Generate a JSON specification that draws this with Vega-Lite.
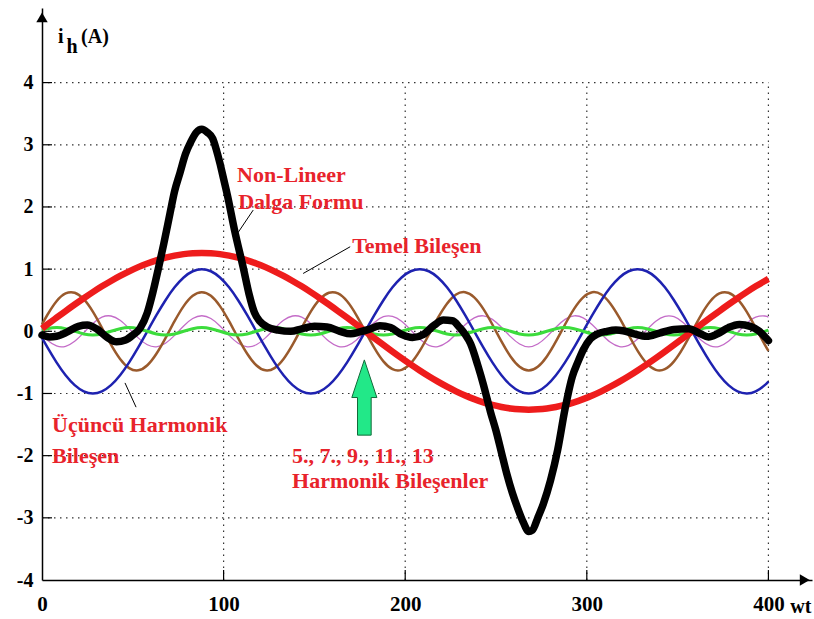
{
  "$schema": "https://vega.github.io/schema/vega-lite/v6.json",
  "width": 770,
  "height": 572,
  "autosize": "none",
  "padding": {"left": 42, "top": 8, "right": 2, "bottom": 39},
  "background": "white",
  "config": {
    "view": {"stroke": null},
    "axis": {"grid": false, "ticks": false, "domain": true, "domainColor": "black", "domainWidth": 1.5,
      "labelFont": "Liberation Serif", "labelFontWeight": "bold", "labelColor": "black",
      "labelFlush": false, "labelOverlap": false},
    "axisX": {"tickCount": 5, "labelFontSize": 21, "labelPadding": 13, "labelExpr": "'' + datum.value"},
    "axisY": {"tickCount": 10, "labelFontSize": 20, "labelPadding": 9, "labelExpr": "datum.value > 4 ? '' : '' + datum.value"}
  },
  "datasets": {
    "harm": [
      {"x": 0, "r": 0.044, "b": -0.105, "n": 0.109, "m": -0.06, "g": 0.019},
      {"x": 3, "r": 0.11, "b": -0.259, "n": 0.266, "m": -0.143, "g": 0.042},
      {"x": 8, "r": 0.219, "b": -0.5, "n": 0.483, "m": -0.235, "g": 0.06},
      {"x": 13, "r": 0.326, "b": -0.707, "n": 0.609, "m": -0.241, "g": 0.042},
      {"x": 18, "r": 0.431, "b": -0.866, "n": 0.62, "m": -0.161, "g": 0},
      {"x": 23, "r": 0.532, "b": -0.966, "n": 0.516, "m": -0.022, "g": -0.042},
      {"x": 28, "r": 0.63, "b": -1, "n": 0.315, "m": 0.125, "g": -0.06},
      {"x": 33, "r": 0.723, "b": -0.966, "n": 0.055, "m": 0.227, "g": -0.042},
      {"x": 38, "r": 0.81, "b": -0.866, "n": -0.215, "m": 0.246, "g": 0},
      {"x": 43, "r": 0.891, "b": -0.707, "n": -0.445, "m": 0.177, "g": 0.042},
      {"x": 48, "r": 0.965, "b": -0.5, "n": -0.592, "m": 0.043, "g": 0.06},
      {"x": 53, "r": 1.032, "b": -0.259, "n": -0.628, "m": -0.106, "g": 0.042},
      {"x": 58, "r": 1.091, "b": 0, "n": -0.546, "m": -0.217, "g": 0},
      {"x": 63, "r": 1.142, "b": 0.259, "n": -0.361, "m": -0.249, "g": -0.042},
      {"x": 68, "r": 1.184, "b": 0.5, "n": -0.109, "m": -0.192, "g": -0.06},
      {"x": 73, "r": 1.217, "b": 0.707, "n": 0.163, "m": -0.065, "g": -0.042},
      {"x": 78, "r": 1.241, "b": 0.866, "n": 0.405, "m": 0.086, "g": 0},
      {"x": 83, "r": 1.255, "b": 0.966, "n": 0.571, "m": 0.205, "g": 0.042},
      {"x": 88, "r": 1.26, "b": 1, "n": 0.63, "m": 0.25, "g": 0.06},
      {"x": 93, "r": 1.255, "b": 0.966, "n": 0.571, "m": 0.205, "g": 0.042},
      {"x": 98, "r": 1.241, "b": 0.866, "n": 0.405, "m": 0.086, "g": 0},
      {"x": 103, "r": 1.217, "b": 0.707, "n": 0.163, "m": -0.065, "g": -0.042},
      {"x": 108, "r": 1.184, "b": 0.5, "n": -0.109, "m": -0.192, "g": -0.06},
      {"x": 113, "r": 1.142, "b": 0.259, "n": -0.361, "m": -0.249, "g": -0.042},
      {"x": 118, "r": 1.091, "b": 0, "n": -0.546, "m": -0.217, "g": 0},
      {"x": 123, "r": 1.032, "b": -0.259, "n": -0.628, "m": -0.106, "g": 0.042},
      {"x": 128, "r": 0.965, "b": -0.5, "n": -0.592, "m": 0.043, "g": 0.06},
      {"x": 133, "r": 0.891, "b": -0.707, "n": -0.445, "m": 0.177, "g": 0.042},
      {"x": 138, "r": 0.81, "b": -0.866, "n": -0.215, "m": 0.246, "g": 0},
      {"x": 143, "r": 0.723, "b": -0.966, "n": 0.055, "m": 0.227, "g": -0.042},
      {"x": 148, "r": 0.63, "b": -1, "n": 0.315, "m": 0.125, "g": -0.06},
      {"x": 153, "r": 0.532, "b": -0.966, "n": 0.516, "m": -0.022, "g": -0.042},
      {"x": 158, "r": 0.431, "b": -0.866, "n": 0.62, "m": -0.161, "g": 0},
      {"x": 163, "r": 0.326, "b": -0.707, "n": 0.609, "m": -0.241, "g": 0.042},
      {"x": 168, "r": 0.219, "b": -0.5, "n": 0.483, "m": -0.235, "g": 0.06},
      {"x": 173, "r": 0.11, "b": -0.259, "n": 0.266, "m": -0.143, "g": 0.042},
      {"x": 178, "r": 0, "b": 0, "n": 0, "m": 0, "g": 0},
      {"x": 183, "r": -0.11, "b": 0.259, "n": -0.266, "m": 0.143, "g": -0.042},
      {"x": 188, "r": -0.219, "b": 0.5, "n": -0.483, "m": 0.235, "g": -0.06},
      {"x": 193, "r": -0.326, "b": 0.707, "n": -0.609, "m": 0.241, "g": -0.042},
      {"x": 198, "r": -0.431, "b": 0.866, "n": -0.62, "m": 0.161, "g": 0},
      {"x": 203, "r": -0.532, "b": 0.966, "n": -0.516, "m": 0.022, "g": 0.042},
      {"x": 208, "r": -0.63, "b": 1, "n": -0.315, "m": -0.125, "g": 0.06},
      {"x": 213, "r": -0.723, "b": 0.966, "n": -0.055, "m": -0.227, "g": 0.042},
      {"x": 218, "r": -0.81, "b": 0.866, "n": 0.215, "m": -0.246, "g": 0},
      {"x": 223, "r": -0.891, "b": 0.707, "n": 0.445, "m": -0.177, "g": -0.042},
      {"x": 228, "r": -0.965, "b": 0.5, "n": 0.592, "m": -0.043, "g": -0.06},
      {"x": 233, "r": -1.032, "b": 0.259, "n": 0.628, "m": 0.106, "g": -0.042},
      {"x": 238, "r": -1.091, "b": 0, "n": 0.546, "m": 0.217, "g": 0},
      {"x": 243, "r": -1.142, "b": -0.259, "n": 0.361, "m": 0.249, "g": 0.042},
      {"x": 248, "r": -1.184, "b": -0.5, "n": 0.109, "m": 0.192, "g": 0.06},
      {"x": 253, "r": -1.217, "b": -0.707, "n": -0.163, "m": 0.065, "g": 0.042},
      {"x": 258, "r": -1.241, "b": -0.866, "n": -0.405, "m": -0.086, "g": 0},
      {"x": 263, "r": -1.255, "b": -0.966, "n": -0.571, "m": -0.205, "g": -0.042},
      {"x": 268, "r": -1.26, "b": -1, "n": -0.63, "m": -0.25, "g": -0.06},
      {"x": 273, "r": -1.255, "b": -0.966, "n": -0.571, "m": -0.205, "g": -0.042},
      {"x": 278, "r": -1.241, "b": -0.866, "n": -0.405, "m": -0.086, "g": 0},
      {"x": 283, "r": -1.217, "b": -0.707, "n": -0.163, "m": 0.065, "g": 0.042},
      {"x": 288, "r": -1.184, "b": -0.5, "n": 0.109, "m": 0.192, "g": 0.06},
      {"x": 293, "r": -1.142, "b": -0.259, "n": 0.361, "m": 0.249, "g": 0.042},
      {"x": 298, "r": -1.091, "b": 0, "n": 0.546, "m": 0.217, "g": 0},
      {"x": 303, "r": -1.032, "b": 0.259, "n": 0.628, "m": 0.106, "g": -0.042},
      {"x": 308, "r": -0.965, "b": 0.5, "n": 0.592, "m": -0.043, "g": -0.06},
      {"x": 313, "r": -0.891, "b": 0.707, "n": 0.445, "m": -0.177, "g": -0.042},
      {"x": 318, "r": -0.81, "b": 0.866, "n": 0.215, "m": -0.246, "g": 0},
      {"x": 323, "r": -0.723, "b": 0.966, "n": -0.055, "m": -0.227, "g": 0.042},
      {"x": 328, "r": -0.63, "b": 1, "n": -0.315, "m": -0.125, "g": 0.06},
      {"x": 333, "r": -0.532, "b": 0.966, "n": -0.516, "m": 0.022, "g": 0.042},
      {"x": 338, "r": -0.431, "b": 0.866, "n": -0.62, "m": 0.161, "g": 0},
      {"x": 343, "r": -0.326, "b": 0.707, "n": -0.609, "m": 0.241, "g": -0.042},
      {"x": 348, "r": -0.219, "b": 0.5, "n": -0.483, "m": 0.235, "g": -0.06},
      {"x": 353, "r": -0.11, "b": 0.259, "n": -0.266, "m": 0.143, "g": -0.042},
      {"x": 358, "r": 0, "b": 0, "n": 0, "m": 0, "g": 0},
      {"x": 363, "r": 0.11, "b": -0.259, "n": 0.266, "m": -0.143, "g": 0.042},
      {"x": 368, "r": 0.219, "b": -0.5, "n": 0.483, "m": -0.235, "g": 0.06},
      {"x": 373, "r": 0.326, "b": -0.707, "n": 0.609, "m": -0.241, "g": 0.042},
      {"x": 378, "r": 0.431, "b": -0.866, "n": 0.62, "m": -0.161, "g": 0},
      {"x": 383, "r": 0.532, "b": -0.966, "n": 0.516, "m": -0.022, "g": -0.042},
      {"x": 388, "r": 0.63, "b": -1, "n": 0.315, "m": 0.125, "g": -0.06},
      {"x": 393, "r": 0.723, "b": -0.966, "n": 0.055, "m": 0.227, "g": -0.042},
      {"x": 398, "r": 0.81, "b": -0.866, "n": -0.215, "m": 0.246, "g": 0},
      {"x": 400, "r": 0.843, "b": -0.809, "n": -0.315, "m": 0.228, "g": 0.019}
    ],
    "nonlin": [
      {"x": 0, "y": -0.06}, {"x": 4, "y": -0.09}, {"x": 8, "y": -0.08}, {"x": 14, "y": -0.01},
      {"x": 20, "y": 0.08}, {"x": 25, "y": 0.1}, {"x": 30, "y": 0.04}, {"x": 36, "y": -0.1},
      {"x": 41, "y": -0.17}, {"x": 46, "y": -0.14}, {"x": 50, "y": -0.06}, {"x": 54, "y": 0.05},
      {"x": 58, "y": 0.3}, {"x": 61, "y": 0.62}, {"x": 64, "y": 1.0}, {"x": 67, "y": 1.4},
      {"x": 70.5, "y": 1.9}, {"x": 73, "y": 2.25}, {"x": 76, "y": 2.55}, {"x": 79, "y": 2.85},
      {"x": 82, "y": 3.05}, {"x": 85, "y": 3.2}, {"x": 88, "y": 3.25}, {"x": 91, "y": 3.2},
      {"x": 94, "y": 3.1}, {"x": 96, "y": 2.92}, {"x": 98, "y": 2.7}, {"x": 100, "y": 2.45},
      {"x": 102, "y": 2.2}, {"x": 106, "y": 1.63}, {"x": 111, "y": 1.0}, {"x": 114, "y": 0.6},
      {"x": 117, "y": 0.3}, {"x": 120, "y": 0.16}, {"x": 124, "y": 0.07}, {"x": 130, "y": 0.02},
      {"x": 137, "y": 0.0}, {"x": 143, "y": 0.04}, {"x": 150, "y": 0.08}, {"x": 157, "y": 0.07},
      {"x": 164, "y": 0.0}, {"x": 170, "y": -0.04}, {"x": 175, "y": -0.01}, {"x": 180, "y": 0.03},
      {"x": 186, "y": 0.09}, {"x": 192, "y": 0.06}, {"x": 198, "y": -0.05}, {"x": 204, "y": -0.1},
      {"x": 210, "y": -0.05}, {"x": 216, "y": 0.1}, {"x": 221, "y": 0.18}, {"x": 226, "y": 0.17},
      {"x": 230, "y": 0.06}, {"x": 233, "y": -0.05}, {"x": 236, "y": -0.2}, {"x": 240, "y": -0.55},
      {"x": 243, "y": -0.85}, {"x": 247, "y": -1.3}, {"x": 250, "y": -1.6}, {"x": 253, "y": -1.95},
      {"x": 256, "y": -2.3}, {"x": 259, "y": -2.6}, {"x": 262, "y": -2.85}, {"x": 265, "y": -3.07},
      {"x": 268, "y": -3.22}, {"x": 270, "y": -3.2}, {"x": 273, "y": -3.0}, {"x": 276, "y": -2.78},
      {"x": 280, "y": -2.4}, {"x": 284, "y": -1.9}, {"x": 288, "y": -1.25}, {"x": 292, "y": -0.73},
      {"x": 295, "y": -0.5}, {"x": 298, "y": -0.3}, {"x": 302, "y": -0.12}, {"x": 306, "y": -0.04},
      {"x": 311, "y": 0.0}, {"x": 316, "y": 0.02}, {"x": 320, "y": 0.01}, {"x": 326, "y": -0.04},
      {"x": 333, "y": -0.08}, {"x": 340, "y": -0.03}, {"x": 348, "y": 0.03}, {"x": 356, "y": 0.04},
      {"x": 362, "y": -0.03}, {"x": 367, "y": -0.09}, {"x": 372, "y": -0.04}, {"x": 378, "y": 0.06},
      {"x": 384, "y": 0.11}, {"x": 390, "y": 0.08}, {"x": 395, "y": 0.0}, {"x": 400, "y": -0.15}
    ],
    "notes": [
      {"x": 107.4, "y": 2.4, "t": "Non-Lineer"},
      {"x": 108, "y": 1.97, "t": "Dalga Formu"},
      {"x": 170.8, "y": 1.26, "t": "Temel Bileşen"},
      {"x": 5.5, "y": -1.62, "t": "Üçüncü Harmonik"},
      {"x": 5.5, "y": -2.12, "t": "Bileşen"},
      {"x": 137.7, "y": -2.12, "t": "5., 7., 9., 11., 13"},
      {"x": 137.7, "y": -2.52, "t": "Harmonik Bileşenler"}
    ],
    "leaders": [
      {"x": 116.3, "y": 1.95, "x2": 108, "y2": 1.59},
      {"x": 169.7, "y": 1.36, "x2": 143.8, "y2": 0.93},
      {"x": 45.7, "y": -0.83, "x2": 51.8, "y2": -1.22}
    ]
  },
  "layer": [
    {
      "data": {"values": [{"v": 100}, {"v": 200}, {"v": 300}, {"v": 400}]},
      "mark": {"type": "rule", "color": "#333333", "strokeWidth": 1.2, "strokeDash": [1.5, 4.5]},
      "encoding": {
        "x": {"field": "v", "type": "quantitative", "scale": {"domain": [0, 424]}, "title": null},
        "y": {"datum": -4, "type": "quantitative", "scale": {"domain": [-4, 5.2]}, "title": null},
        "y2": {"datum": 4}
      }
    },
    {
      "data": {"values": [{"h": -3}, {"h": -2}, {"h": -1}, {"h": 0}, {"h": 1}, {"h": 2}, {"h": 3}, {"h": 4}]},
      "mark": {"type": "rule", "color": "#333333", "strokeWidth": 1.2, "strokeDash": [1.5, 4.5]},
      "encoding": {
        "y": {"field": "h", "type": "quantitative", "scale": {"domain": [-4, 5.2]}, "title": null},
        "x": {"datum": 0, "type": "quantitative", "scale": {"domain": [0, 424]}, "title": null},
        "x2": {"datum": 400}
      }
    },
    {
      "data": {"values": [{"v": 100}, {"v": 200}, {"v": 300}, {"v": 400}]},
      "mark": {"type": "rule", "color": "black", "strokeWidth": 1.2},
      "encoding": {
        "x": {"field": "v", "type": "quantitative", "scale": {"domain": [0, 424]}, "title": null},
        "y": {"datum": -4, "type": "quantitative", "scale": {"domain": [-4, 5.2]}, "title": null},
        "y2": {"datum": -3.84}
      }
    },
    {
      "data": {"values": [{"h": -3}, {"h": -2}, {"h": -1}, {"h": 0}, {"h": 1}, {"h": 2}, {"h": 3}, {"h": 4}]},
      "mark": {"type": "rule", "color": "black", "strokeWidth": 1.2},
      "encoding": {
        "y": {"field": "h", "type": "quantitative", "scale": {"domain": [-4, 5.2]}, "title": null},
        "x": {"datum": 0, "type": "quantitative", "scale": {"domain": [0, 424]}, "title": null},
        "x2": {"datum": 5.5}
      }
    },
    {
      "data": {"name": "harm"},
      "mark": {"type": "line", "color": "#c46cc8", "strokeWidth": 1.3, "interpolate": "natural"},
      "encoding": {
        "x": {"field": "x", "type": "quantitative", "scale": {"domain": [0, 424]}, "title": null},
        "y": {"field": "m", "type": "quantitative", "scale": {"domain": [-4, 5.2]}, "title": null}
      }
    },
    {
      "data": {"name": "harm"},
      "mark": {"type": "line", "color": "#9a5a2c", "strokeWidth": 2.5, "interpolate": "natural"},
      "encoding": {
        "x": {"field": "x", "type": "quantitative", "scale": {"domain": [0, 424]}, "title": null},
        "y": {"field": "n", "type": "quantitative", "scale": {"domain": [-4, 5.2]}, "title": null}
      }
    },
    {
      "data": {"name": "harm"},
      "mark": {"type": "line", "color": "#1e22b0", "strokeWidth": 2.5, "interpolate": "natural"},
      "encoding": {
        "x": {"field": "x", "type": "quantitative", "scale": {"domain": [0, 424]}, "title": null},
        "y": {"field": "b", "type": "quantitative", "scale": {"domain": [-4, 5.2]}, "title": null}
      }
    },
    {
      "data": {"name": "harm"},
      "mark": {"type": "line", "color": "#3cdc3c", "strokeWidth": 3, "interpolate": "natural"},
      "encoding": {
        "x": {"field": "x", "type": "quantitative", "scale": {"domain": [0, 424]}, "title": null},
        "y": {"field": "g", "type": "quantitative", "scale": {"domain": [-4, 5.2]}, "title": null}
      }
    },
    {
      "data": {"name": "harm"},
      "mark": {"type": "line", "color": "#ee1c1c", "strokeWidth": 6.5, "interpolate": "natural"},
      "encoding": {
        "x": {"field": "x", "type": "quantitative", "scale": {"domain": [0, 424]}, "title": null},
        "y": {"field": "r", "type": "quantitative", "scale": {"domain": [-4, 5.2]}, "title": null}
      }
    },
    {
      "data": {"name": "nonlin"},
      "mark": {"type": "line", "color": "black", "strokeWidth": 7.5, "interpolate": "monotone", "strokeJoin": "round", "strokeCap": "round"},
      "encoding": {
        "x": {"field": "x", "type": "quantitative", "scale": {"domain": [0, 424]}, "title": null},
        "y": {"field": "y", "type": "quantitative", "scale": {"domain": [-4, 5.2]}, "title": null}
      }
    },
    {
      "data": {"name": "leaders"},
      "mark": {"type": "rule", "color": "black", "strokeWidth": 1},
      "encoding": {
        "x": {"field": "x", "type": "quantitative", "scale": {"domain": [0, 424]}, "title": null},
        "y": {"field": "y", "type": "quantitative", "scale": {"domain": [-4, 5.2]}, "title": null},
        "x2": {"field": "x2"},
        "y2": {"field": "y2"}
      }
    },
    {
      "data": {"name": "notes"},
      "mark": {"type": "text", "color": "#e8232b", "font": "Liberation Serif", "fontWeight": "bold", "fontSize": 22, "align": "left", "baseline": "alphabetic"},
      "encoding": {
        "x": {"field": "x", "type": "quantitative", "scale": {"domain": [0, 424]}, "title": null},
        "y": {"field": "y", "type": "quantitative", "scale": {"domain": [-4, 5.2]}, "title": null},
        "text": {"field": "t"}
      }
    },
    {
      "data": {"values": [{"x": 177.5, "y": -1.065}]},
      "mark": {"type": "point", "filled": true, "color": "#22e888", "stroke": "#126b3a", "strokeWidth": 1, "opacity": 1,
        "shape": "M0,-0.99L0.33,0L0.18,0L0.18,0.99L-0.18,0.99L-0.18,0L-0.33,0Z", "size": 5776},
      "encoding": {
        "x": {"field": "x", "type": "quantitative", "scale": {"domain": [0, 424]}, "title": null},
        "y": {"field": "y", "type": "quantitative", "scale": {"domain": [-4, 5.2]}, "title": null}
      }
    },
    {
      "data": {"values": [{"a": "up"}]},
      "mark": {"type": "point", "filled": true, "color": "black", "opacity": 1, "shape": "triangle-up", "size": 130},
      "encoding": {
        "x": {"datum": 0, "type": "quantitative", "scale": {"domain": [0, 424]}, "title": null},
        "y": {"datum": 5.05, "type": "quantitative", "scale": {"domain": [-4, 5.2]}, "title": null}
      }
    },
    {
      "data": {"values": [{"a": "right"}]},
      "mark": {"type": "point", "filled": true, "color": "black", "opacity": 1, "shape": "triangle-right", "size": 130},
      "encoding": {
        "x": {"datum": 420, "type": "quantitative", "scale": {"domain": [0, 424]}, "title": null},
        "y": {"datum": -4, "type": "quantitative", "scale": {"domain": [-4, 5.2]}, "title": null}
      }
    },
    {
      "data": {"values": [{"x": 8.8, "y": 4.64, "t": "i"}, {"x": 21.5, "y": 4.64, "t": "(A)"}, {"x": 412, "y": -4.53, "t": "wt"}]},
      "mark": {"type": "text", "color": "black", "font": "Liberation Serif", "fontWeight": "bold", "fontSize": 20, "align": "left", "baseline": "alphabetic"},
      "encoding": {
        "x": {"field": "x", "type": "quantitative", "scale": {"domain": [0, 424]}, "title": null},
        "y": {"field": "y", "type": "quantitative", "scale": {"domain": [-4, 5.2]}, "title": null},
        "text": {"field": "t"}
      }
    },
    {
      "data": {"values": [{"x": 13.5, "y": 4.48, "t": "h"}]},
      "mark": {"type": "text", "color": "black", "font": "Liberation Serif", "fontWeight": "bold", "fontSize": 20, "align": "left", "baseline": "alphabetic"},
      "encoding": {
        "x": {"field": "x", "type": "quantitative", "scale": {"domain": [0, 424]}, "title": null},
        "y": {"field": "y", "type": "quantitative", "scale": {"domain": [-4, 5.2]}, "title": null},
        "text": {"field": "t"}
      }
    }
  ]
}
